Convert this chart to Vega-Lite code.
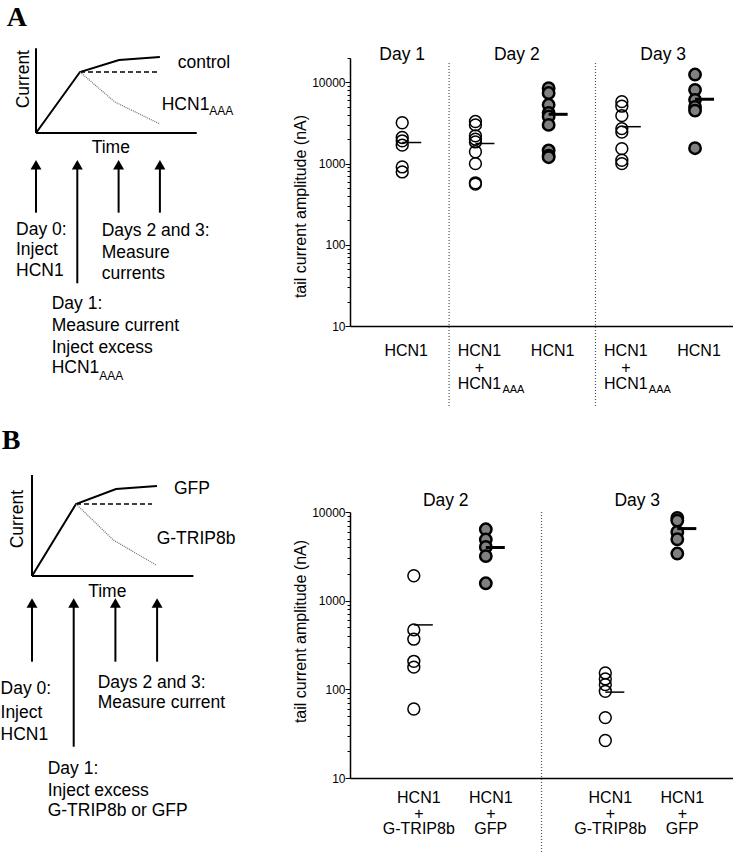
{
  "$schema": "https://vega.github.io/schema/vega-lite/v6.json",
  "padding": 0,
  "background": "white",
  "columns": 2,
  "spacing": 0,
  "bounds": "flush",
  "align": "each",
  "config": {
    "view": {"stroke": null},
    "font": "Liberation Sans",
    "text": {"color": "black"}
  },
  "datasets": {
    "schemA_segs": [
      {"time": 0, "current": 0, "time2": 0, "current2": 1.389},
      {"time": 0, "current": 0, "time2": 3.891, "current2": 0},
      {"time": 0, "current": -0.52, "time2": 0, "current2": -1.306},
      {"time": 1, "current": -0.52, "time2": 1, "current2": -2.464},
      {"time": 2, "current": -0.52, "time2": 2, "current2": -1.306},
      {"time": 3, "current": -0.52, "time2": 3, "current2": -1.306}
    ],
    "schemA_heads": [
      {"time": 0, "current": -0.52},
      {"time": 1, "current": -0.52},
      {"time": 2, "current": -0.52},
      {"time": 3, "current": -0.52}
    ],
    "schemA_lines": [
      {"series": "control", "time": 0, "current": 0},
      {"series": "control", "time": 1.065, "current": 1.0},
      {"series": "control", "time": 2.01, "current": 1.197},
      {"series": "control", "time": 3.0, "current": 1.246},
      {"series": "unchanged", "time": 1.065, "current": 1.0},
      {"series": "unchanged", "time": 2.93, "current": 1.0},
      {"series": "HCN1AAA", "time": 1.065, "current": 1.0},
      {"series": "HCN1AAA", "time": 1.91, "current": 0.508},
      {"series": "HCN1AAA", "time": 3.0, "current": 0.148}
    ],
    "schemA_text": [
      {"kind": "main", "text": "control", "time": 3.431, "current": 1.152},
      {"kind": "main", "text": "HCN1", "time": 3.044, "current": 0.459},
      {"kind": "sub", "text": "AAA", "time": 4.196, "current": 0.361},
      {"kind": "center", "text": "Time", "time": 1.811, "current": -0.241},
      {"kind": "rot", "text": "Current", "time": -0.295, "current": 0.882},
      {"kind": "main", "text": "Day 0:", "time": -0.484, "current": -1.59},
      {"kind": "main", "text": "Inject", "time": -0.484, "current": -1.923},
      {"kind": "main", "text": "HCN1", "time": -0.484, "current": -2.262},
      {"kind": "main", "text": "Days 2 and 3:", "time": 1.591, "current": -1.607},
      {"kind": "main", "text": "Measure", "time": 1.591, "current": -1.962},
      {"kind": "main", "text": "currents", "time": 1.591, "current": -2.311},
      {"kind": "main", "text": "Day 1:", "time": 0.38, "current": -2.808},
      {"kind": "main", "text": "Measure current", "time": 0.38, "current": -3.164},
      {"kind": "main", "text": "Inject excess", "time": 0.38, "current": -3.52},
      {"kind": "main", "text": "HCN1", "time": 0.38, "current": -3.848},
      {"kind": "sub", "text": "AAA", "time": 1.533, "current": -3.984},
      {"kind": "letter", "text": "A", "time": -0.709, "current": 1.885}
    ],
    "schemB_segs": [
      {"time": 0, "current": 0, "time2": 0, "current2": 1.403},
      {"time": 0, "current": 0, "time2": 3.87, "current2": 0},
      {"time": 0, "current": -0.375, "time2": 0, "current2": -1.19},
      {"time": 1, "current": -0.375, "time2": 1, "current2": -2.371},
      {"time": 2, "current": -0.375, "time2": 2, "current2": -1.19},
      {"time": 3, "current": -0.375, "time2": 3, "current2": -1.19}
    ],
    "schemB_heads": [
      {"time": 0, "current": -0.375},
      {"time": 1, "current": -0.375},
      {"time": 2, "current": -0.375},
      {"time": 3, "current": -0.375}
    ],
    "schemB_lines": [
      {"series": "GFP", "time": 0, "current": 0},
      {"series": "GFP", "time": 1.055, "current": 1.0},
      {"series": "GFP", "time": 2.014, "current": 1.208},
      {"series": "GFP", "time": 2.998, "current": 1.25},
      {"series": "unchanged", "time": 1.055, "current": 1.0},
      {"series": "unchanged", "time": 2.878, "current": 1.0},
      {"series": "G-TRIP8b", "time": 1.055, "current": 1.0},
      {"series": "G-TRIP8b", "time": 1.95, "current": 0.5},
      {"series": "G-TRIP8b", "time": 2.974, "current": 0.153}
    ],
    "schemB_text": [
      {"kind": "main", "text": "GFP", "time": 3.405, "current": 1.204},
      {"kind": "main", "text": "G-TRIP8b", "time": 2.99, "current": 0.51},
      {"kind": "center", "text": "Time", "time": 1.806, "current": -0.222},
      {"kind": "rot", "text": "Current", "time": -0.324, "current": 0.789},
      {"kind": "main", "text": "Day 0:", "time": -0.755, "current": -1.574},
      {"kind": "main", "text": "Inject", "time": -0.755, "current": -1.899},
      {"kind": "main", "text": "HCN1", "time": -0.755, "current": -2.208},
      {"kind": "main", "text": "Days 2 and 3:", "time": 1.576, "current": -1.482},
      {"kind": "main", "text": "Measure current", "time": 1.576, "current": -1.76},
      {"kind": "main", "text": "Day 1:", "time": 0.376, "current": -2.685},
      {"kind": "main", "text": "Inject excess", "time": 0.376, "current": -2.986},
      {"kind": "main", "text": "G-TRIP8b or GFP", "time": 0.376, "current": -3.264},
      {"kind": "letter", "text": "B", "time": -0.727, "current": 1.875}
    ],
    "pointsA": [
      {"grp": "D1 HCN1", "value": 3190}, {"grp": "D1 HCN1", "value": 2100}, {"grp": "D1 HCN1", "value": 1910},
      {"grp": "D1 HCN1", "value": 1690}, {"grp": "D1 HCN1", "value": 910}, {"grp": "D1 HCN1", "value": 790},
      {"grp": "D2 HCN1+HCN1AAA", "value": 3300}, {"grp": "D2 HCN1+HCN1AAA", "value": 3000}, {"grp": "D2 HCN1+HCN1AAA", "value": 2200},
      {"grp": "D2 HCN1+HCN1AAA", "value": 2000}, {"grp": "D2 HCN1+HCN1AAA", "value": 1850}, {"grp": "D2 HCN1+HCN1AAA", "value": 1400},
      {"grp": "D2 HCN1+HCN1AAA", "value": 1000}, {"grp": "D2 HCN1+HCN1AAA", "value": 580}, {"grp": "D2 HCN1+HCN1AAA", "value": 560},
      {"grp": "D2 HCN1", "value": 8500}, {"grp": "D2 HCN1", "value": 7400}, {"grp": "D2 HCN1", "value": 5300},
      {"grp": "D2 HCN1", "value": 4200}, {"grp": "D2 HCN1", "value": 3800}, {"grp": "D2 HCN1", "value": 3000},
      {"grp": "D2 HCN1", "value": 1450}, {"grp": "D2 HCN1", "value": 1250}, {"grp": "D2 HCN1", "value": 1200},
      {"grp": "D3 HCN1+HCN1AAA", "value": 5800}, {"grp": "D3 HCN1+HCN1AAA", "value": 5100}, {"grp": "D3 HCN1+HCN1AAA", "value": 3900},
      {"grp": "D3 HCN1+HCN1AAA", "value": 2700}, {"grp": "D3 HCN1+HCN1AAA", "value": 2450}, {"grp": "D3 HCN1+HCN1AAA", "value": 1530},
      {"grp": "D3 HCN1+HCN1AAA", "value": 1100}, {"grp": "D3 HCN1+HCN1AAA", "value": 1000},
      {"grp": "D3 HCN1", "value": 12500}, {"grp": "D3 HCN1", "value": 8100}, {"grp": "D3 HCN1", "value": 6100},
      {"grp": "D3 HCN1", "value": 5000}, {"grp": "D3 HCN1", "value": 4500}, {"grp": "D3 HCN1", "value": 1550}
    ],
    "meansA": [
      {"grp": "D1 HCN1", "value": 1820},
      {"grp": "D2 HCN1+HCN1AAA", "value": 1770},
      {"grp": "D2 HCN1", "value": 4050},
      {"grp": "D3 HCN1+HCN1AAA", "value": 2850},
      {"grp": "D3 HCN1", "value": 6210}
    ],
    "dividersA": [{"grp": "D2 HCN1+HCN1AAA"}, {"grp": "D3 HCN1+HCN1AAA"}],
    "titlesA": [
      {"grp": "D1 HCN1", "text": "Day 1", "groups": 1},
      {"grp": "D2 HCN1+HCN1AAA", "text": "Day 2", "groups": 2},
      {"grp": "D3 HCN1+HCN1AAA", "text": "Day 3", "groups": 2}
    ],
    "labelsA": [
      {"grp": "D1 HCN1", "text": "HCN1"},
      {"grp": "D2 HCN1+HCN1AAA", "text": "HCN1\n+\nHCN1"},
      {"grp": "D2 HCN1", "text": "HCN1"},
      {"grp": "D3 HCN1+HCN1AAA", "text": "HCN1\n+\nHCN1"},
      {"grp": "D3 HCN1", "text": "HCN1"}
    ],
    "subsA": [
      {"grp": "D2 HCN1+HCN1AAA", "text": "AAA"},
      {"grp": "D3 HCN1+HCN1AAA", "text": "AAA"}
    ],
    "pointsB": [
      {"day": "Day 2", "trt": "G-TRIP8b", "value": 1910}, {"day": "Day 2", "trt": "G-TRIP8b", "value": 468},
      {"day": "Day 2", "trt": "G-TRIP8b", "value": 368}, {"day": "Day 2", "trt": "G-TRIP8b", "value": 207},
      {"day": "Day 2", "trt": "G-TRIP8b", "value": 178}, {"day": "Day 2", "trt": "G-TRIP8b", "value": 60},
      {"day": "Day 2", "trt": "GFP", "value": 6380}, {"day": "Day 2", "trt": "GFP", "value": 4890},
      {"day": "Day 2", "trt": "GFP", "value": 4040}, {"day": "Day 2", "trt": "GFP", "value": 3180},
      {"day": "Day 2", "trt": "GFP", "value": 1570},
      {"day": "Day 3", "trt": "G-TRIP8b", "value": 153}, {"day": "Day 3", "trt": "G-TRIP8b", "value": 131},
      {"day": "Day 3", "trt": "G-TRIP8b", "value": 113}, {"day": "Day 3", "trt": "G-TRIP8b", "value": 95},
      {"day": "Day 3", "trt": "G-TRIP8b", "value": 48}, {"day": "Day 3", "trt": "G-TRIP8b", "value": 26.5},
      {"day": "Day 3", "trt": "GFP", "value": 8570}, {"day": "Day 3", "trt": "GFP", "value": 8000},
      {"day": "Day 3", "trt": "GFP", "value": 5960}, {"day": "Day 3", "trt": "GFP", "value": 4930},
      {"day": "Day 3", "trt": "GFP", "value": 3400}
    ],
    "meansB": [
      {"day": "Day 2", "trt": "G-TRIP8b", "value": 533},
      {"day": "Day 2", "trt": "GFP", "value": 3980},
      {"day": "Day 3", "trt": "G-TRIP8b", "value": 93},
      {"day": "Day 3", "trt": "GFP", "value": 6500}
    ],
    "dividersB": [{"day": "Day 3"}],
    "titlesB": [{"day": "Day 2", "text": "Day 2"}, {"day": "Day 3", "text": "Day 3"}],
    "labelsB": [
      {"day": "Day 2", "trt": "G-TRIP8b", "text": "HCN1\n+\nG-TRIP8b"},
      {"day": "Day 2", "trt": "GFP", "text": "HCN1\n+\nGFP"},
      {"day": "Day 3", "trt": "G-TRIP8b", "text": "HCN1\n+\nG-TRIP8b"},
      {"day": "Day 3", "trt": "GFP", "text": "HCN1\n+\nGFP"}
    ]
  },
  "concat": [
    {
      "width": 350,
      "height": 430,
      "encoding": {
        "x": {"field": "time", "type": "quantitative", "scale": {"domain": [-0.8717, 7.6029], "nice": false, "zero": false}, "axis": null},
        "y": {"field": "current", "type": "quantitative", "scale": {"domain": [-4.8689, 2.1803], "nice": false, "zero": false}, "axis": null}
      },
      "layer": [
        {"data": {"name": "schemA_segs"}, "mark": {"type": "rule", "color": "black", "strokeWidth": 2},
         "encoding": {"x2": {"field": "time2"}, "y2": {"field": "current2"}}},
        {"data": {"name": "schemA_heads"}, "mark": {"type": "point", "shape": "triangle-up", "filled": true, "color": "black", "size": 120, "opacity": 1}},
        {"data": {"name": "schemA_lines"}, "transform": [{"filter": "datum.series == 'control'"}],
         "mark": {"type": "line", "color": "black", "strokeWidth": 2}, "encoding": {}},
        {"data": {"name": "schemA_lines"}, "transform": [{"filter": "datum.series == 'unchanged'"}],
         "mark": {"type": "line", "color": "black", "strokeWidth": 1.5, "strokeDash": [5, 3]}, "encoding": {}},
        {"data": {"name": "schemA_lines"}, "transform": [{"filter": "datum.series == 'HCN1AAA'"}],
         "mark": {"type": "line", "color": "#777777", "strokeWidth": 1.3, "strokeDash": [1, 1]}, "encoding": {}},
        {"data": {"name": "schemA_text"}, "transform": [{"filter": "datum.kind == 'main'"}],
         "mark": {"type": "text", "align": "left", "baseline": "middle", "fontSize": 17.5}, "encoding": {"text": {"field": "text"}}},
        {"data": {"name": "schemA_text"}, "transform": [{"filter": "datum.kind == 'sub'"}],
         "mark": {"type": "text", "align": "left", "baseline": "middle", "fontSize": 12}, "encoding": {"text": {"field": "text"}}},
        {"data": {"name": "schemA_text"}, "transform": [{"filter": "datum.kind == 'center'"}],
         "mark": {"type": "text", "align": "center", "baseline": "middle", "fontSize": 17.5}, "encoding": {"text": {"field": "text"}}},
        {"data": {"name": "schemA_text"}, "transform": [{"filter": "datum.kind == 'rot'"}],
         "mark": {"type": "text", "align": "center", "baseline": "middle", "fontSize": 17.5, "angle": 270}, "encoding": {"text": {"field": "text"}}},
        {"data": {"name": "schemA_text"}, "transform": [{"filter": "datum.kind == 'letter'"}],
         "mark": {"type": "text", "align": "left", "baseline": "middle", "fontSize": 28, "font": "Liberation Serif", "fontWeight": "bold"}, "encoding": {"text": {"field": "text"}}}
      ]
    },
    {
      "width": 383,
      "height": 326,
      "layer": [
        {"data": {"name": "dividersA"}, "mark": {"type": "rule", "color": "#555555", "strokeWidth": 1.2, "strokeDash": [1, 2]},
         "encoding": {
           "x": {"field": "grp", "type": "nominal", "bandPosition": 0.14,
                 "scale": {"type": "band", "domain": ["D1 HCN1", "D2 HCN1+HCN1AAA", "D2 HCN1", "D3 HCN1+HCN1AAA", "D3 HCN1"], "paddingInner": 0, "paddingOuter": 0.116, "align": 0.92},
                 "axis": {"title": null, "labels": false, "ticks": false, "grid": false, "domainColor": "black", "domainWidth": 1.5}},
           "y": {"datum": 17400, "type": "quantitative",
                 "scale": {"type": "log", "domain": [10, 20000], "rangeMax": 58, "nice": false},
                 "axis": {"values": [10, 20, 30, 40, 50, 60, 70, 80, 90, 100, 200, 300, 400, 500, 600, 700, 800, 900, 1000, 2000, 3000, 4000, 5000, 6000, 7000, 8000, 9000, 10000, 20000],
                          "labelExpr": "indexof([10, 100, 1000, 10000], datum.value) >= 0 ? datum.value : ''",
                          "tickSize": {"condition": {"test": "indexof([10, 100, 1000, 10000], datum.value) >= 0", "value": 5}, "value": 3},
                          "labelPadding": 0, "labelFontSize": 12, "labelColor": "black", "labelOverlap": false, "labelFlush": false,
                          "domainColor": "black", "domainWidth": 1.5, "tickColor": "black", "tickWidth": 1, "grid": false,
                          "title": "tail current amplitude (nA)", "titleFontSize": 16, "titleFontWeight": "normal", "titleColor": "black",
                          "titlePadding": 3.5, "titleY": 206}},
           "y2": {"datum": 1}}},
        {"data": {"name": "pointsA"}, "transform": [{"filter": "indexof(['D2 HCN1', 'D3 HCN1'], datum.grp) < 0"}],
         "mark": {"type": "point", "shape": "circle", "filled": false, "stroke": "black", "strokeWidth": 1.5, "size": 140, "opacity": 1},
         "encoding": {"x": {"field": "grp", "type": "nominal"}, "y": {"field": "value", "type": "quantitative"}}},
        {"data": {"name": "pointsA"}, "transform": [{"filter": "indexof(['D2 HCN1', 'D3 HCN1'], datum.grp) >= 0"}],
         "mark": {"type": "point", "shape": "circle", "filled": true, "fill": "#808080", "stroke": "black", "strokeWidth": 2.5, "size": 130, "opacity": 1},
         "encoding": {"x": {"field": "grp", "type": "nominal"}, "y": {"field": "value", "type": "quantitative"}}},
        {"data": {"name": "meansA"}, "transform": [{"filter": "indexof(['D2 HCN1', 'D3 HCN1'], datum.grp) < 0"}],
         "mark": {"type": "point", "shape": "M0,0H1", "size": 1444, "filled": false, "stroke": "black", "strokeWidth": 1.5, "opacity": 1},
         "encoding": {"x": {"field": "grp", "type": "nominal"}, "y": {"field": "value", "type": "quantitative"}}},
        {"data": {"name": "meansA"}, "transform": [{"filter": "indexof(['D2 HCN1', 'D3 HCN1'], datum.grp) >= 0"}],
         "mark": {"type": "point", "shape": "M0,0H1", "size": 1444, "filled": false, "stroke": "black", "strokeWidth": 3, "opacity": 1},
         "encoding": {"x": {"field": "grp", "type": "nominal"}, "y": {"field": "value", "type": "quantitative"}}},
        {"data": {"name": "titlesA"}, "transform": [{"filter": "datum.groups == 1"}],
         "mark": {"type": "text", "align": "center", "baseline": "middle", "fontSize": 17.5, "dy": -3},
         "encoding": {"x": {"field": "grp", "type": "nominal"}, "y": {"datum": 20000, "type": "quantitative"}, "text": {"field": "text"}}},
        {"data": {"name": "titlesA"}, "transform": [{"filter": "datum.groups == 2"}],
         "mark": {"type": "text", "align": "center", "baseline": "middle", "fontSize": 17.5, "dy": -3},
         "encoding": {"x": {"field": "grp", "type": "nominal", "bandPosition": 1.065}, "y": {"datum": 20000, "type": "quantitative"}, "text": {"field": "text"}}},
        {"data": {"name": "labelsA"},
         "mark": {"type": "text", "align": "center", "baseline": "top", "fontSize": 16, "lineBreak": "\n", "lineHeight": 16.5, "dy": 17, "dx": 4},
         "encoding": {"x": {"field": "grp", "type": "nominal"}, "y": {"datum": 10, "type": "quantitative"}, "text": {"field": "text"}}},
        {"data": {"name": "subsA"},
         "mark": {"type": "text", "align": "left", "baseline": "middle", "fontSize": 11, "dy": 64, "dx": 27},
         "encoding": {"x": {"field": "grp", "type": "nominal"}, "y": {"datum": 10, "type": "quantitative"}, "text": {"field": "text"}}}
      ]
    },
    {
      "width": 350,
      "height": 423,
      "encoding": {
        "x": {"field": "time", "type": "quantitative", "scale": {"domain": [-0.7674, 7.6259], "nice": false, "zero": false}, "axis": null},
        "y": {"field": "current", "type": "quantitative", "scale": {"domain": [-3.8472, 2.0278], "nice": false, "zero": false}, "axis": null}
      },
      "layer": [
        {"data": {"name": "schemB_segs"}, "mark": {"type": "rule", "color": "black", "strokeWidth": 2},
         "encoding": {"x2": {"field": "time2"}, "y2": {"field": "current2"}}},
        {"data": {"name": "schemB_heads"}, "mark": {"type": "point", "shape": "triangle-up", "filled": true, "color": "black", "size": 120, "opacity": 1}},
        {"data": {"name": "schemB_lines"}, "transform": [{"filter": "datum.series == 'GFP'"}],
         "mark": {"type": "line", "color": "black", "strokeWidth": 2}, "encoding": {}},
        {"data": {"name": "schemB_lines"}, "transform": [{"filter": "datum.series == 'unchanged'"}],
         "mark": {"type": "line", "color": "black", "strokeWidth": 1.5, "strokeDash": [5, 3]}, "encoding": {}},
        {"data": {"name": "schemB_lines"}, "transform": [{"filter": "datum.series == 'G-TRIP8b'"}],
         "mark": {"type": "line", "color": "#777777", "strokeWidth": 1.3, "strokeDash": [1, 1]}, "encoding": {}},
        {"data": {"name": "schemB_text"}, "transform": [{"filter": "datum.kind == 'main'"}],
         "mark": {"type": "text", "align": "left", "baseline": "middle", "fontSize": 17.5}, "encoding": {"text": {"field": "text"}}},
        {"data": {"name": "schemB_text"}, "transform": [{"filter": "datum.kind == 'center'"}],
         "mark": {"type": "text", "align": "center", "baseline": "middle", "fontSize": 17.5}, "encoding": {"text": {"field": "text"}}},
        {"data": {"name": "schemB_text"}, "transform": [{"filter": "datum.kind == 'rot'"}],
         "mark": {"type": "text", "align": "center", "baseline": "middle", "fontSize": 17.5, "angle": 270}, "encoding": {"text": {"field": "text"}}},
        {"data": {"name": "schemB_text"}, "transform": [{"filter": "datum.kind == 'letter'"}],
         "mark": {"type": "text", "align": "left", "baseline": "middle", "fontSize": 28, "font": "Liberation Serif", "fontWeight": "bold"}, "encoding": {"text": {"field": "text"}}}
      ]
    },
    {
      "width": 383,
      "height": 348,
      "layer": [
        {"data": {"name": "dividersB"}, "mark": {"type": "rule", "color": "#555555", "strokeWidth": 1.2, "strokeDash": [1, 2]},
         "encoding": {
           "x": {"field": "day", "type": "nominal", "bandPosition": 0,
                 "scale": {"type": "band", "domain": ["Day 2", "Day 3"], "paddingInner": 0, "paddingOuter": 0},
                 "axis": {"title": null, "labels": false, "ticks": false, "grid": false, "domainColor": "black", "domainWidth": 1.5}},
           "y": {"datum": 10000, "type": "quantitative",
                 "scale": {"type": "log", "domain": [10, 10000], "rangeMax": 82, "nice": false},
                 "axis": {"values": [10, 20, 30, 40, 50, 60, 70, 80, 90, 100, 200, 300, 400, 500, 600, 700, 800, 900, 1000, 2000, 3000, 4000, 5000, 6000, 7000, 8000, 9000, 10000],
                          "labelExpr": "indexof([10, 100, 1000, 10000], datum.value) >= 0 ? datum.value : ''",
                          "tickSize": {"condition": {"test": "indexof([10, 100, 1000, 10000], datum.value) >= 0", "value": 5}, "value": 3},
                          "labelPadding": 0, "labelFontSize": 12, "labelColor": "black", "labelOverlap": false, "labelFlush": false,
                          "domainColor": "black", "domainWidth": 1.5, "tickColor": "black", "tickWidth": 1, "grid": false,
                          "title": "tail current amplitude (nA)", "titleFontSize": 16, "titleFontWeight": "normal", "titleColor": "black",
                          "titlePadding": 3.5, "titleY": 201}},
           "y2": {"datum": 1.43}}},
        {"data": {"name": "titlesB"},
         "mark": {"type": "text", "align": "center", "baseline": "middle", "fontSize": 17.5, "dy": -11},
         "encoding": {"x": {"field": "day", "type": "nominal"}, "y": {"datum": 10000, "type": "quantitative"}, "text": {"field": "text"}}},
        {"data": {"name": "pointsB"}, "transform": [{"filter": "datum.trt == 'G-TRIP8b'"}],
         "mark": {"type": "point", "shape": "circle", "filled": false, "stroke": "black", "strokeWidth": 1.5, "size": 140, "opacity": 1},
         "encoding": {"x": {"field": "day", "type": "nominal"}, "y": {"field": "value", "type": "quantitative"},
                      "xOffset": {"field": "trt", "type": "nominal", "scale": {"type": "point", "domain": ["G-TRIP8b", "GFP"], "paddingOuter": 0.83, "align": 0.534}}}},
        {"data": {"name": "pointsB"}, "transform": [{"filter": "datum.trt == 'GFP'"}],
         "mark": {"type": "point", "shape": "circle", "filled": true, "fill": "#808080", "stroke": "black", "strokeWidth": 2.5, "size": 130, "opacity": 1},
         "encoding": {"x": {"field": "day", "type": "nominal"}, "y": {"field": "value", "type": "quantitative"},
                      "xOffset": {"field": "trt", "type": "nominal", "scale": {"type": "point", "domain": ["G-TRIP8b", "GFP"], "paddingOuter": 0.83, "align": 0.534}}}},
        {"data": {"name": "meansB"}, "transform": [{"filter": "datum.trt == 'G-TRIP8b'"}],
         "mark": {"type": "point", "shape": "M0,0H1", "size": 1444, "filled": false, "stroke": "black", "strokeWidth": 1.5, "opacity": 1},
         "encoding": {"x": {"field": "day", "type": "nominal"}, "y": {"field": "value", "type": "quantitative"},
                      "xOffset": {"field": "trt", "type": "nominal", "scale": {"type": "point", "domain": ["G-TRIP8b", "GFP"], "paddingOuter": 0.83, "align": 0.534}}}},
        {"data": {"name": "meansB"}, "transform": [{"filter": "datum.trt == 'GFP'"}],
         "mark": {"type": "point", "shape": "M0,0H1", "size": 1444, "filled": false, "stroke": "black", "strokeWidth": 3, "opacity": 1},
         "encoding": {"x": {"field": "day", "type": "nominal"}, "y": {"field": "value", "type": "quantitative"},
                      "xOffset": {"field": "trt", "type": "nominal", "scale": {"type": "point", "domain": ["G-TRIP8b", "GFP"], "paddingOuter": 0.83, "align": 0.534}}}},
        {"data": {"name": "labelsB"},
         "mark": {"type": "text", "align": "center", "baseline": "top", "fontSize": 16, "lineBreak": "\n", "lineHeight": 15.5, "dy": 12, "dx": 5},
         "encoding": {"x": {"field": "day", "type": "nominal"},
                      "xOffset": {"field": "trt", "type": "nominal", "scale": {"type": "point", "domain": ["G-TRIP8b", "GFP"], "paddingOuter": 0.83, "align": 0.534}},
                      "y": {"datum": 10, "type": "quantitative"}, "text": {"field": "text"}}}
      ]
    }
  ]
}
